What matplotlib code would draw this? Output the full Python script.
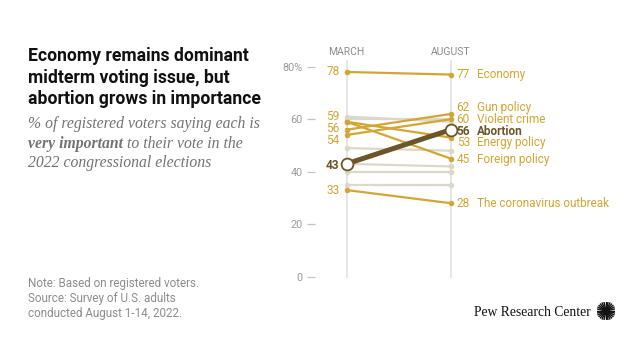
import matplotlib
matplotlib.use('Agg')
import matplotlib.pyplot as plt
import numpy as np

# ── Data ─────────────────────────────────────────────────────────────────────
months = ['MARCH', 'AUGUST']
issues = ['Economy', 'Gun policy', 'Violent crime', 'Abortion',
          'Energy policy', 'Foreign policy', 'The coronavirus outbreak']
march = [78, 56, 54, 43, 59, 59, 33]
august = [77, 62, 60, 56, 53, 45, 28]

# unlabeled issues drawn in the background
other_march = [61, 60, 49, 43, 40, 35]
other_august = [59, 60, 48, 42, 40, 35]

yticks = [0, 20, 40, 60, 80]
ytick_labels = ['0', '20', '40', '60', '80%']

HIGHLIGHT = 'Abortion'

# ── Style ────────────────────────────────────────────────────────────────────
GOLD = '#D2A634'
DARK = '#6B5629'
PALE = '#DCD8C7'
RULE = '#E2E2E2'
TICK = '#9A9A9A'
NOTE = '#8C8C8C'
SANS = ['Roboto', 'DejaVu Sans']
SERIF = ['Liberation Serif', 'DejaVu Serif']

# label nudges (data units) so stacked labels don't collide
right_nudge = {'Gun policy': 2.6, 'Abortion': -0.5, 'Energy policy': -2.0, 'Foreign policy': -0.2}
left_nudge = {59: 2.1, 56: 0.4, 54: -2.2, 43: -0.6}

W, H = 640, 360
fig = plt.figure(figsize=(W / 100, H / 100), dpi=100)
fig.patch.set_facecolor('white')


def fx(x):
    return x / W


def fy(y):
    return 1 - y / H


# axes spans March column (x=346.7) to August column (x=450.7)
x0, x1, ytop, ybot = 346.7, 450.7, 66.7, 276.7
ax = fig.add_axes([fx(x0), fy(ybot), (x1 - x0) / W, (ybot - ytop) / H])
ax.set_xlim(0, 1)
ax.set_ylim(0, 80)
ax.patch.set_alpha(0)
for s in ['top', 'right', 'bottom']:
    ax.spines[s].set_visible(False)
ax.spines['left'].set_position(('outward', 22.8))
ax.spines['left'].set_visible(False)
ax.set_xticks([])
ax.set_yticks(yticks)
ax.set_yticklabels(ytick_labels, fontsize=7.8, color=TICK, family=SANS)
ax.tick_params(axis='y', length=5.5, width=0.9, color='#C4C4C4', pad=3.5)

xs = np.arange(len(months))
ax.vlines(xs, -0.4, 82.5, color=RULE, lw=1.2, clip_on=False, zorder=1)
for x, m in zip(xs, months):
    ax.text(x, 85.6, m, ha='center', va='center', fontsize=7.5, color='#8A8A8A',
            family=SANS)

# background issues
for a, b in zip(other_march, other_august):
    ax.plot(xs, [a, b], color=PALE, lw=1.6, marker='o', ms=4, mec='none',
            clip_on=False, zorder=2)

# labeled issues
for name, a, b in zip(issues, march, august):
    if name == HIGHLIGHT:
        continue
    ax.plot(xs, [a, b], color=GOLD, lw=1.6, marker='o', ms=4, mec='none',
            clip_on=False, zorder=3)

i = issues.index(HIGHLIGHT)
ax.plot(xs, [march[i], august[i]], color=DARK, lw=3.6, solid_capstyle='round',
        zorder=4, clip_on=False)
ax.plot(xs, [march[i], august[i]], ls='none', marker='o', ms=8.5, mfc='white',
        mec=DARK, mew=1.3, zorder=5, clip_on=False)

# right-hand labels
for name, b in zip(issues, august):
    yl = b + right_nudge.get(name, 0)
    hl = name == HIGHLIGHT
    c = DARK if hl else GOLD
    fw = 'bold' if hl else 'normal'
    ax.annotate(f'{b}', (1, yl), xytext=(6, 0), textcoords='offset pixels',
                ha='left', va='center', fontsize=8.6, color=c, fontweight=fw,
                family=SANS, annotation_clip=False)
    ax.annotate(name, (1, yl), xytext=(26.5, 0), textcoords='offset pixels',
                ha='left', va='center', fontsize=8.5, color=c, fontweight=fw,
                family=SANS, annotation_clip=False)

# left-hand labels (one per distinct value)
done = set()
for name, a in zip(issues, march):
    if a in done:
        continue
    done.add(a)
    hl = name == HIGHLIGHT
    ax.annotate(f'{a}', (0, a + left_nudge.get(a, 0)), xytext=(-7, 0),
                textcoords='offset pixels', ha='right', va='center',
                fontsize=8.6, color=DARK if hl else GOLD,
                fontweight='bold' if hl else 'normal', family=SANS,
                annotation_clip=False)

# ── Title block ──────────────────────────────────────────────────────────────
for k, line in enumerate(['Economy remains dominant', 'midterm voting issue, but',
                          'abortion grows in importance']):
    fig.text(fx(28), fy(61 + k * 21.7), line, fontsize=12.7, fontweight='bold',
             color='#111111', family=SANS, va='baseline')

sub_kw = dict(fontsize=11.3, style='italic', color='#737373', family=SERIF,
              va='baseline')
fig.text(fx(28), fy(127.5), '% of registered voters saying each is', **sub_kw)
t = fig.text(fx(28), fy(147.5), 'very important', fontweight='bold', **sub_kw)
fig.canvas.draw()
bb = t.get_window_extent(fig.canvas.get_renderer())
fig.text(bb.x1 / W, fy(147.5), ' to their vote in the', **sub_kw)
fig.text(fx(28), fy(167), '2022 congressional elections', **sub_kw)

# ── Notes ────────────────────────────────────────────────────────────────────
for k, line in enumerate(['Note: Based on registered voters.',
                          'Source: Survey of U.S. adults',
                          'conducted August 1-14, 2022.']):
    fig.text(fx(28), fy(287 + k * 15), line, fontsize=8.4, color=NOTE,
             family=SANS, va='baseline')

fig.text(fx(591), fy(316), 'Pew Research Center', fontsize=9.8, color='#111111',
         family=SERIF, ha='right', va='baseline')

# logo: simple sunburst
lg = fig.add_axes([fx(597), fy(320), 18 / W, 18 / H])
lg.set_xlim(-1, 1)
lg.set_ylim(-1, 1)
lg.axis('off')
for ang in np.linspace(0, 2 * np.pi, 28, endpoint=False):
    lg.plot([0.25 * np.cos(ang), 0.98 * np.cos(ang)],
            [0.25 * np.sin(ang), 0.98 * np.sin(ang)], color='#111111', lw=1.0)
lg.add_patch(plt.Circle((0, 0), 0.3, color='#111111'))

fig.savefig('out.png', dpi=100, facecolor='white')
